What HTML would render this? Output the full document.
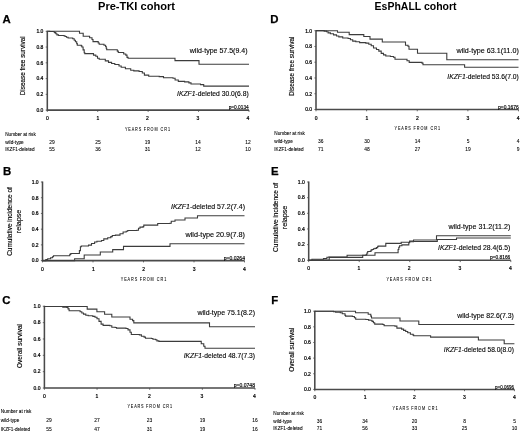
<!DOCTYPE html>
<html><head><meta charset="utf-8"><title>Figure</title>
<style>
html,body{margin:0;padding:0;background:#fff;width:520px;height:431px;overflow:hidden;}
svg text{font-family:"Liberation Sans", sans-serif;}
</style></head><body>
<svg width="520" height="431" viewBox="0 0 520 431" style="display:block;filter:grayscale(1) blur(0.22px)">
<rect width="520" height="431" fill="#fff"/>
<text x="98" y="9.8" font-size="11.2" font-weight="bold" textLength="77" lengthAdjust="spacingAndGlyphs" fill="#000">Pre-TKI cohort</text>
<text x="374.6" y="9.7" font-size="11.2" font-weight="bold" textLength="82" lengthAdjust="spacingAndGlyphs" fill="#000">EsPhALL cohort</text>
<text x="2.4" y="23.1" font-size="11.4" font-weight="bold" stroke="#000" stroke-width="0.25" fill="#000">A</text>
<text x="2.9" y="174.7" font-size="11.4" font-weight="bold" stroke="#000" stroke-width="0.25" fill="#000">B</text>
<text x="2.2" y="304.0" font-size="11.4" font-weight="bold" stroke="#000" stroke-width="0.25" fill="#000">C</text>
<text x="270.2" y="23.3" font-size="11.4" font-weight="bold" stroke="#000" stroke-width="0.25" fill="#000">D</text>
<text x="271.1" y="174.7" font-size="11.4" font-weight="bold" stroke="#000" stroke-width="0.25" fill="#000">E</text>
<text x="271.3" y="303.8" font-size="11.4" font-weight="bold" stroke="#000" stroke-width="0.25" fill="#000">F</text>
<path d="M47.3,30.8 V110.1 H249.0" fill="none" stroke="#4a4a4a" stroke-width="1.55"/>
<line x1="45.699999999999996" y1="110.10" x2="47.3" y2="110.10" stroke="#4a4a4a" stroke-width="0.8"/>
<text x="43.4" y="111.90" font-size="5" stroke="#000" stroke-width="0.22" text-anchor="end" fill="#000">0.0</text>
<line x1="45.699999999999996" y1="94.34" x2="47.3" y2="94.34" stroke="#4a4a4a" stroke-width="0.8"/>
<text x="43.4" y="96.14" font-size="5" stroke="#000" stroke-width="0.22" text-anchor="end" fill="#000">0.2</text>
<line x1="45.699999999999996" y1="78.58" x2="47.3" y2="78.58" stroke="#4a4a4a" stroke-width="0.8"/>
<text x="43.4" y="80.38" font-size="5" stroke="#000" stroke-width="0.22" text-anchor="end" fill="#000">0.4</text>
<line x1="45.699999999999996" y1="62.82" x2="47.3" y2="62.82" stroke="#4a4a4a" stroke-width="0.8"/>
<text x="43.4" y="64.62" font-size="5" stroke="#000" stroke-width="0.22" text-anchor="end" fill="#000">0.6</text>
<line x1="45.699999999999996" y1="47.06" x2="47.3" y2="47.06" stroke="#4a4a4a" stroke-width="0.8"/>
<text x="43.4" y="48.86" font-size="5" stroke="#000" stroke-width="0.22" text-anchor="end" fill="#000">0.8</text>
<line x1="45.699999999999996" y1="31.30" x2="47.3" y2="31.30" stroke="#4a4a4a" stroke-width="0.8"/>
<text x="43.4" y="33.10" font-size="5" stroke="#000" stroke-width="0.22" text-anchor="end" fill="#000">1.0</text>
<line x1="47.30" y1="110.1" x2="47.30" y2="111.89999999999999" stroke="#4a4a4a" stroke-width="0.8"/>
<text x="47.5" y="119.8" font-size="5" stroke="#000" stroke-width="0.22" text-anchor="middle" fill="#000">0</text>
<line x1="97.72" y1="110.1" x2="97.72" y2="111.89999999999999" stroke="#4a4a4a" stroke-width="0.8"/>
<text x="98" y="119.8" font-size="5" stroke="#000" stroke-width="0.22" text-anchor="middle" fill="#000">1</text>
<line x1="148.15" y1="110.1" x2="148.15" y2="111.89999999999999" stroke="#4a4a4a" stroke-width="0.8"/>
<text x="147.5" y="119.8" font-size="5" stroke="#000" stroke-width="0.22" text-anchor="middle" fill="#000">2</text>
<line x1="198.57" y1="110.1" x2="198.57" y2="111.89999999999999" stroke="#4a4a4a" stroke-width="0.8"/>
<text x="198" y="119.8" font-size="5" stroke="#000" stroke-width="0.22" text-anchor="middle" fill="#000">3</text>
<line x1="249.00" y1="110.1" x2="249.00" y2="111.89999999999999" stroke="#4a4a4a" stroke-width="0.8"/>
<text x="248" y="119.8" font-size="5" stroke="#000" stroke-width="0.22" text-anchor="middle" fill="#000">4</text>
<g transform="translate(125,130.7) scale(0.8,1)"><text x="0" y="0" font-size="4.7" stroke="#000" stroke-width="0.06" textLength="20.25" lengthAdjust="spacing" fill="#000">YEARS</text></g>
<g transform="translate(143.68,130.7) scale(0.8,1)"><text x="0" y="0" font-size="4.7" stroke="#000" stroke-width="0.06" textLength="32.91" lengthAdjust="spacing" fill="#000">FROM CR1</text></g>
<text x="228.7" y="109.20" font-size="5" stroke="#000" stroke-width="0.15" textLength="20" lengthAdjust="spacingAndGlyphs" fill="#000">p=0.0134</text>
<text transform="translate(23.2,65.8) rotate(-90)" x="0" y="2.2" font-size="6.5" stroke="#000" stroke-width="0.14" textLength="59.0" lengthAdjust="spacingAndGlyphs" text-anchor="middle" fill="#000">Disease free survival</text>
<path d="M42.5,181.5 V260.6 H244.5" fill="none" stroke="#4a4a4a" stroke-width="1.55"/>
<line x1="40.9" y1="260.60" x2="42.5" y2="260.60" stroke="#4a4a4a" stroke-width="0.8"/>
<text x="38.6" y="262.40" font-size="5" stroke="#000" stroke-width="0.22" text-anchor="end" fill="#000">0.0</text>
<line x1="40.9" y1="244.88" x2="42.5" y2="244.88" stroke="#4a4a4a" stroke-width="0.8"/>
<text x="38.6" y="246.68" font-size="5" stroke="#000" stroke-width="0.22" text-anchor="end" fill="#000">0.2</text>
<line x1="40.9" y1="229.16" x2="42.5" y2="229.16" stroke="#4a4a4a" stroke-width="0.8"/>
<text x="38.6" y="230.96" font-size="5" stroke="#000" stroke-width="0.22" text-anchor="end" fill="#000">0.4</text>
<line x1="40.9" y1="213.44" x2="42.5" y2="213.44" stroke="#4a4a4a" stroke-width="0.8"/>
<text x="38.6" y="215.24" font-size="5" stroke="#000" stroke-width="0.22" text-anchor="end" fill="#000">0.6</text>
<line x1="40.9" y1="197.72" x2="42.5" y2="197.72" stroke="#4a4a4a" stroke-width="0.8"/>
<text x="38.6" y="199.52" font-size="5" stroke="#000" stroke-width="0.22" text-anchor="end" fill="#000">0.8</text>
<line x1="40.9" y1="182.00" x2="42.5" y2="182.00" stroke="#4a4a4a" stroke-width="0.8"/>
<text x="38.6" y="183.80" font-size="5" stroke="#000" stroke-width="0.22" text-anchor="end" fill="#000">1.0</text>
<line x1="42.50" y1="260.6" x2="42.50" y2="262.40000000000003" stroke="#4a4a4a" stroke-width="0.8"/>
<text x="42.5" y="270.5" font-size="5" stroke="#000" stroke-width="0.22" text-anchor="middle" fill="#000">0</text>
<line x1="93.00" y1="260.6" x2="93.00" y2="262.40000000000003" stroke="#4a4a4a" stroke-width="0.8"/>
<text x="93.3" y="270.5" font-size="5" stroke="#000" stroke-width="0.22" text-anchor="middle" fill="#000">1</text>
<line x1="143.50" y1="260.6" x2="143.50" y2="262.40000000000003" stroke="#4a4a4a" stroke-width="0.8"/>
<text x="143.7" y="270.5" font-size="5" stroke="#000" stroke-width="0.22" text-anchor="middle" fill="#000">2</text>
<line x1="194.00" y1="260.6" x2="194.00" y2="262.40000000000003" stroke="#4a4a4a" stroke-width="0.8"/>
<text x="194.2" y="270.5" font-size="5" stroke="#000" stroke-width="0.22" text-anchor="middle" fill="#000">3</text>
<line x1="244.50" y1="260.6" x2="244.50" y2="262.40000000000003" stroke="#4a4a4a" stroke-width="0.8"/>
<text x="244.5" y="270.5" font-size="5" stroke="#000" stroke-width="0.22" text-anchor="middle" fill="#000">4</text>
<g transform="translate(120.8,281.4) scale(0.8,1)"><text x="0" y="0" font-size="4.7" stroke="#000" stroke-width="0.06" textLength="20.48" lengthAdjust="spacing" fill="#000">YEARS</text></g>
<g transform="translate(139.68,281.4) scale(0.8,1)"><text x="0" y="0" font-size="4.7" stroke="#000" stroke-width="0.06" textLength="33.27" lengthAdjust="spacing" fill="#000">FROM CR1</text></g>
<text x="223.75" y="259.70" font-size="5" stroke="#000" stroke-width="0.15" textLength="21.25" lengthAdjust="spacingAndGlyphs" fill="#000">p=0.0264</text>
<text transform="translate(9.3,221.5) rotate(-90)" x="0" y="2.2" font-size="6.5" stroke="#000" stroke-width="0.14" textLength="68.6" lengthAdjust="spacingAndGlyphs" text-anchor="middle" fill="#000">Cumulative incidence of</text>
<text transform="translate(18.3,221.5) rotate(-90)" x="0" y="2.2" font-size="6.5" stroke="#000" stroke-width="0.14" textLength="23.3" lengthAdjust="spacingAndGlyphs" text-anchor="middle" fill="#000">relapse</text>
<path d="M44.4,305.8 V388.0 H255.0" fill="none" stroke="#4a4a4a" stroke-width="1.55"/>
<line x1="42.8" y1="388.00" x2="44.4" y2="388.00" stroke="#4a4a4a" stroke-width="0.8"/>
<text x="40.5" y="389.80" font-size="5" stroke="#000" stroke-width="0.22" text-anchor="end" fill="#000">0.0</text>
<line x1="42.8" y1="371.66" x2="44.4" y2="371.66" stroke="#4a4a4a" stroke-width="0.8"/>
<text x="40.5" y="373.46" font-size="5" stroke="#000" stroke-width="0.22" text-anchor="end" fill="#000">0.2</text>
<line x1="42.8" y1="355.32" x2="44.4" y2="355.32" stroke="#4a4a4a" stroke-width="0.8"/>
<text x="40.5" y="357.12" font-size="5" stroke="#000" stroke-width="0.22" text-anchor="end" fill="#000">0.4</text>
<line x1="42.8" y1="338.98" x2="44.4" y2="338.98" stroke="#4a4a4a" stroke-width="0.8"/>
<text x="40.5" y="340.78" font-size="5" stroke="#000" stroke-width="0.22" text-anchor="end" fill="#000">0.6</text>
<line x1="42.8" y1="322.64" x2="44.4" y2="322.64" stroke="#4a4a4a" stroke-width="0.8"/>
<text x="40.5" y="324.44" font-size="5" stroke="#000" stroke-width="0.22" text-anchor="end" fill="#000">0.8</text>
<line x1="42.8" y1="306.30" x2="44.4" y2="306.30" stroke="#4a4a4a" stroke-width="0.8"/>
<text x="40.5" y="308.10" font-size="5" stroke="#000" stroke-width="0.22" text-anchor="end" fill="#000">1.0</text>
<line x1="44.40" y1="388.0" x2="44.40" y2="389.8" stroke="#4a4a4a" stroke-width="0.8"/>
<text x="44.4" y="398.1" font-size="5" stroke="#000" stroke-width="0.22" text-anchor="middle" fill="#000">0</text>
<line x1="97.05" y1="388.0" x2="97.05" y2="389.8" stroke="#4a4a4a" stroke-width="0.8"/>
<text x="97" y="398.1" font-size="5" stroke="#000" stroke-width="0.22" text-anchor="middle" fill="#000">1</text>
<line x1="149.70" y1="388.0" x2="149.70" y2="389.8" stroke="#4a4a4a" stroke-width="0.8"/>
<text x="149.5" y="398.1" font-size="5" stroke="#000" stroke-width="0.22" text-anchor="middle" fill="#000">2</text>
<line x1="202.35" y1="388.0" x2="202.35" y2="389.8" stroke="#4a4a4a" stroke-width="0.8"/>
<text x="202" y="398.1" font-size="5" stroke="#000" stroke-width="0.22" text-anchor="middle" fill="#000">3</text>
<line x1="255.00" y1="388.0" x2="255.00" y2="389.8" stroke="#4a4a4a" stroke-width="0.8"/>
<text x="254.5" y="398.1" font-size="5" stroke="#000" stroke-width="0.22" text-anchor="middle" fill="#000">4</text>
<g transform="translate(127.5,408.2) scale(0.8,1)"><text x="0" y="0" font-size="4.7" stroke="#000" stroke-width="0.06" textLength="20.02" lengthAdjust="spacing" fill="#000">YEARS</text></g>
<g transform="translate(145.97,408.2) scale(0.8,1)"><text x="0" y="0" font-size="4.7" stroke="#000" stroke-width="0.06" textLength="32.54" lengthAdjust="spacing" fill="#000">FROM CR1</text></g>
<text x="233.75" y="387.10" font-size="5" stroke="#000" stroke-width="0.15" textLength="21.25" lengthAdjust="spacingAndGlyphs" fill="#000">p=0.0748</text>
<text transform="translate(19.6,346) rotate(-90)" x="0" y="2.2" font-size="6.5" stroke="#000" stroke-width="0.14" textLength="44.0" lengthAdjust="spacingAndGlyphs" text-anchor="middle" fill="#000">Overall survival</text>
<path d="M316.0,30.2 V109.5 H518.5" fill="none" stroke="#4a4a4a" stroke-width="1.55"/>
<line x1="314.4" y1="109.50" x2="316.0" y2="109.50" stroke="#4a4a4a" stroke-width="0.8"/>
<text x="312.1" y="111.30" font-size="5" stroke="#000" stroke-width="0.22" text-anchor="end" fill="#000">0.0</text>
<line x1="314.4" y1="93.74" x2="316.0" y2="93.74" stroke="#4a4a4a" stroke-width="0.8"/>
<text x="312.1" y="95.54" font-size="5" stroke="#000" stroke-width="0.22" text-anchor="end" fill="#000">0.2</text>
<line x1="314.4" y1="77.98" x2="316.0" y2="77.98" stroke="#4a4a4a" stroke-width="0.8"/>
<text x="312.1" y="79.78" font-size="5" stroke="#000" stroke-width="0.22" text-anchor="end" fill="#000">0.4</text>
<line x1="314.4" y1="62.22" x2="316.0" y2="62.22" stroke="#4a4a4a" stroke-width="0.8"/>
<text x="312.1" y="64.02" font-size="5" stroke="#000" stroke-width="0.22" text-anchor="end" fill="#000">0.6</text>
<line x1="314.4" y1="46.46" x2="316.0" y2="46.46" stroke="#4a4a4a" stroke-width="0.8"/>
<text x="312.1" y="48.26" font-size="5" stroke="#000" stroke-width="0.22" text-anchor="end" fill="#000">0.8</text>
<line x1="314.4" y1="30.70" x2="316.0" y2="30.70" stroke="#4a4a4a" stroke-width="0.8"/>
<text x="312.1" y="32.50" font-size="5" stroke="#000" stroke-width="0.22" text-anchor="end" fill="#000">1.0</text>
<line x1="316.00" y1="109.5" x2="316.00" y2="111.3" stroke="#4a4a4a" stroke-width="0.8"/>
<text x="316.2" y="119.8" font-size="5" stroke="#000" stroke-width="0.22" text-anchor="middle" fill="#000">0</text>
<line x1="366.62" y1="109.5" x2="366.62" y2="111.3" stroke="#4a4a4a" stroke-width="0.8"/>
<text x="367" y="119.8" font-size="5" stroke="#000" stroke-width="0.22" text-anchor="middle" fill="#000">1</text>
<line x1="417.25" y1="109.5" x2="417.25" y2="111.3" stroke="#4a4a4a" stroke-width="0.8"/>
<text x="417.5" y="119.8" font-size="5" stroke="#000" stroke-width="0.22" text-anchor="middle" fill="#000">2</text>
<line x1="467.88" y1="109.5" x2="467.88" y2="111.3" stroke="#4a4a4a" stroke-width="0.8"/>
<text x="468" y="119.8" font-size="5" stroke="#000" stroke-width="0.22" text-anchor="middle" fill="#000">3</text>
<line x1="518.50" y1="109.5" x2="518.50" y2="111.3" stroke="#4a4a4a" stroke-width="0.8"/>
<text x="518.2" y="119.8" font-size="5" stroke="#000" stroke-width="0.22" text-anchor="middle" fill="#000">4</text>
<g transform="translate(394.5,130.45) scale(0.8,1)"><text x="0" y="0" font-size="4.7" stroke="#000" stroke-width="0.06" textLength="20.47" lengthAdjust="spacing" fill="#000">YEARS</text></g>
<g transform="translate(413.38,130.45) scale(0.8,1)"><text x="0" y="0" font-size="4.7" stroke="#000" stroke-width="0.06" textLength="33.27" lengthAdjust="spacing" fill="#000">FROM CR1</text></g>
<text x="497.99999999999994" y="108.60" font-size="5" stroke="#000" stroke-width="0.15" textLength="20.8" lengthAdjust="spacingAndGlyphs" fill="#000">p=0.1676</text>
<text transform="translate(291.6,66.3) rotate(-90)" x="0" y="2.2" font-size="6.5" stroke="#000" stroke-width="0.14" textLength="59.6" lengthAdjust="spacingAndGlyphs" text-anchor="middle" fill="#000">Disease free survival</text>
<path d="M308.7,181.5 V260.3 H510.8" fill="none" stroke="#4a4a4a" stroke-width="1.55"/>
<line x1="307.09999999999997" y1="260.30" x2="308.7" y2="260.30" stroke="#4a4a4a" stroke-width="0.8"/>
<text x="304.8" y="262.10" font-size="5" stroke="#000" stroke-width="0.22" text-anchor="end" fill="#000">0.0</text>
<line x1="307.09999999999997" y1="244.64" x2="308.7" y2="244.64" stroke="#4a4a4a" stroke-width="0.8"/>
<text x="304.8" y="246.44" font-size="5" stroke="#000" stroke-width="0.22" text-anchor="end" fill="#000">0.2</text>
<line x1="307.09999999999997" y1="228.98" x2="308.7" y2="228.98" stroke="#4a4a4a" stroke-width="0.8"/>
<text x="304.8" y="230.78" font-size="5" stroke="#000" stroke-width="0.22" text-anchor="end" fill="#000">0.4</text>
<line x1="307.09999999999997" y1="213.32" x2="308.7" y2="213.32" stroke="#4a4a4a" stroke-width="0.8"/>
<text x="304.8" y="215.12" font-size="5" stroke="#000" stroke-width="0.22" text-anchor="end" fill="#000">0.6</text>
<line x1="307.09999999999997" y1="197.66" x2="308.7" y2="197.66" stroke="#4a4a4a" stroke-width="0.8"/>
<text x="304.8" y="199.46" font-size="5" stroke="#000" stroke-width="0.22" text-anchor="end" fill="#000">0.8</text>
<line x1="307.09999999999997" y1="182.00" x2="308.7" y2="182.00" stroke="#4a4a4a" stroke-width="0.8"/>
<text x="304.8" y="183.80" font-size="5" stroke="#000" stroke-width="0.22" text-anchor="end" fill="#000">1.0</text>
<line x1="308.70" y1="260.3" x2="308.70" y2="262.1" stroke="#4a4a4a" stroke-width="0.8"/>
<text x="308.7" y="270.40000000000003" font-size="5" stroke="#000" stroke-width="0.22" text-anchor="middle" fill="#000">0</text>
<line x1="359.23" y1="260.3" x2="359.23" y2="262.1" stroke="#4a4a4a" stroke-width="0.8"/>
<text x="358.8" y="270.40000000000003" font-size="5" stroke="#000" stroke-width="0.22" text-anchor="middle" fill="#000">1</text>
<line x1="409.75" y1="260.3" x2="409.75" y2="262.1" stroke="#4a4a4a" stroke-width="0.8"/>
<text x="409.2" y="270.40000000000003" font-size="5" stroke="#000" stroke-width="0.22" text-anchor="middle" fill="#000">2</text>
<line x1="460.27" y1="260.3" x2="460.27" y2="262.1" stroke="#4a4a4a" stroke-width="0.8"/>
<text x="460" y="270.40000000000003" font-size="5" stroke="#000" stroke-width="0.22" text-anchor="middle" fill="#000">3</text>
<line x1="510.80" y1="260.3" x2="510.80" y2="262.1" stroke="#4a4a4a" stroke-width="0.8"/>
<text x="510.3" y="270.40000000000003" font-size="5" stroke="#000" stroke-width="0.22" text-anchor="middle" fill="#000">4</text>
<g transform="translate(386.5,280.5) scale(0.8,1)"><text x="0" y="0" font-size="4.7" stroke="#000" stroke-width="0.06" textLength="20.25" lengthAdjust="spacing" fill="#000">YEARS</text></g>
<g transform="translate(405.18,280.5) scale(0.8,1)"><text x="0" y="0" font-size="4.7" stroke="#000" stroke-width="0.06" textLength="32.91" lengthAdjust="spacing" fill="#000">FROM CR1</text></g>
<text x="490.0" y="259.40" font-size="5" stroke="#000" stroke-width="0.15" textLength="20.3" lengthAdjust="spacingAndGlyphs" fill="#000">p=0.8166</text>
<text transform="translate(275.6,217.4) rotate(-90)" x="0" y="2.2" font-size="6.5" stroke="#000" stroke-width="0.14" textLength="69.0" lengthAdjust="spacingAndGlyphs" text-anchor="middle" fill="#000">Cumulative incidence of</text>
<text transform="translate(284.5,217.4) rotate(-90)" x="0" y="2.2" font-size="6.5" stroke="#000" stroke-width="0.14" textLength="23.5" lengthAdjust="spacingAndGlyphs" text-anchor="middle" fill="#000">relapse</text>
<path d="M314.8,310.7 V389.4 H514.4" fill="none" stroke="#4a4a4a" stroke-width="1.55"/>
<line x1="313.2" y1="389.40" x2="314.8" y2="389.40" stroke="#4a4a4a" stroke-width="0.8"/>
<text x="310.90000000000003" y="391.20" font-size="5" stroke="#000" stroke-width="0.22" text-anchor="end" fill="#000">0.0</text>
<line x1="313.2" y1="373.76" x2="314.8" y2="373.76" stroke="#4a4a4a" stroke-width="0.8"/>
<text x="310.90000000000003" y="375.56" font-size="5" stroke="#000" stroke-width="0.22" text-anchor="end" fill="#000">0.2</text>
<line x1="313.2" y1="358.12" x2="314.8" y2="358.12" stroke="#4a4a4a" stroke-width="0.8"/>
<text x="310.90000000000003" y="359.92" font-size="5" stroke="#000" stroke-width="0.22" text-anchor="end" fill="#000">0.4</text>
<line x1="313.2" y1="342.48" x2="314.8" y2="342.48" stroke="#4a4a4a" stroke-width="0.8"/>
<text x="310.90000000000003" y="344.28" font-size="5" stroke="#000" stroke-width="0.22" text-anchor="end" fill="#000">0.6</text>
<line x1="313.2" y1="326.84" x2="314.8" y2="326.84" stroke="#4a4a4a" stroke-width="0.8"/>
<text x="310.90000000000003" y="328.64" font-size="5" stroke="#000" stroke-width="0.22" text-anchor="end" fill="#000">0.8</text>
<line x1="313.2" y1="311.20" x2="314.8" y2="311.20" stroke="#4a4a4a" stroke-width="0.8"/>
<text x="310.90000000000003" y="313.00" font-size="5" stroke="#000" stroke-width="0.22" text-anchor="end" fill="#000">1.0</text>
<line x1="314.80" y1="389.4" x2="314.80" y2="391.2" stroke="#4a4a4a" stroke-width="0.8"/>
<text x="314.9" y="399.1" font-size="5" stroke="#000" stroke-width="0.22" text-anchor="middle" fill="#000">0</text>
<line x1="364.70" y1="389.4" x2="364.70" y2="391.2" stroke="#4a4a4a" stroke-width="0.8"/>
<text x="365.1" y="399.1" font-size="5" stroke="#000" stroke-width="0.22" text-anchor="middle" fill="#000">1</text>
<line x1="414.60" y1="389.4" x2="414.60" y2="391.2" stroke="#4a4a4a" stroke-width="0.8"/>
<text x="414.5" y="399.1" font-size="5" stroke="#000" stroke-width="0.22" text-anchor="middle" fill="#000">2</text>
<line x1="464.50" y1="389.4" x2="464.50" y2="391.2" stroke="#4a4a4a" stroke-width="0.8"/>
<text x="464.5" y="399.1" font-size="5" stroke="#000" stroke-width="0.22" text-anchor="middle" fill="#000">3</text>
<line x1="514.40" y1="389.4" x2="514.40" y2="391.2" stroke="#4a4a4a" stroke-width="0.8"/>
<text x="514.5" y="399.1" font-size="5" stroke="#000" stroke-width="0.22" text-anchor="middle" fill="#000">4</text>
<g transform="translate(392.5,410.45) scale(0.8,1)"><text x="0" y="0" font-size="4.7" stroke="#000" stroke-width="0.06" textLength="20.25" lengthAdjust="spacing" fill="#000">YEARS</text></g>
<g transform="translate(411.18,410.45) scale(0.8,1)"><text x="0" y="0" font-size="4.7" stroke="#000" stroke-width="0.06" textLength="32.91" lengthAdjust="spacing" fill="#000">FROM CR1</text></g>
<text x="495.0" y="388.50" font-size="5" stroke="#000" stroke-width="0.15" textLength="18.9" lengthAdjust="spacingAndGlyphs" fill="#000">p=0.0696</text>
<text transform="translate(291.8,349.7) rotate(-90)" x="0" y="2.2" font-size="6.5" stroke="#000" stroke-width="0.14" textLength="44.0" lengthAdjust="spacingAndGlyphs" text-anchor="middle" fill="#000">Overall survival</text>
<path d="M47.5,31.2 H79.5 V33.2 H83.2 V36.3 H89.6 V37.8 H92.0 V39.5 H93.0 V41.6 H98.2 V43.0 H99.2 V44.2 H104.0 V45.3 H105.6 V46.5 H106.2 V48.2 H106.7 V49.7 H117.3 V51.1 H118.3 V52.5 H123.7 V54.0 H125.8 V55.1 H127.0 V57.4 H128.1 V58.2 H175.0 V60.6 H199.0 V64.3 H249.0" fill="none" stroke="#3c3c3c" stroke-width="1.1"/>
<path d="M47.5,31.2 H49.6 V31.5 H53.5 V31.8 H54.6 V32.6 H55.8 V33.8 H56.9 V34.9 H58.5 V35.5 H63.8 V35.7 H65.0 V36.5 H66.5 V37.2 H68.1 V38.0 H71.5 H72.7 V38.8 H74.2 V40.3 H75.4 V41.8 H76.7 V43.6 H77.3 V45.3 H81.3 V45.9 H81.9 V47.0 H83.1 V49.9 H84.2 V52.8 H84.8 V53.6 H92.3 H93.5 V55.1 H95.8 V56.3 H97.5 V58.2 H99.2 V59.2 H103.2 H105.3 V60.9 H108.5 V62.4 H111.6 V63.5 H114.8 V64.5 H119.0 V66.0 H121.2 V67.3 H125.4 V68.8 H130.7 V70.2 H133.8 V70.9 H139.1 V71.5 H142.3 V73.0 H144.4 V75.1 H148.7 V76.2 H159.2 V76.6 H163.5 V77.8 H173.0 V78.3 H175.1 V80.0 H178.3 V81.4 H184.6 V81.9 H188.9 V82.9 H191.0 V84.0 H200.5 V84.6 H203.7 V86.1 H249.0" fill="none" stroke="#3c3c3c" stroke-width="1.1"/>
<path d="M42.9,260.6 H45.8 V259.6 H47.7 V258.7 H50.6 V257.7 H52.5 V256.7 H53.5 V255.8 H68.8 H69.8 V254.4 H70.8 V253.5 H78.5 H79.4 V250.6 H80.4 V246.7 H81.3 V246.0 H86.9 H88.5 V245.1 H91.5 V243.5 H94.6 V242.0 H96.9 V241.2 H101.5 V240.5 H103.8 V238.9 H107.7 V237.8 H110.8 V236.6 H112.3 V235.5 H115.4 V235.1 H120.0 V233.8 H123.1 V232.0 H126.2 V231.2 H127.7 V230.5 H136.9 V230.2 H138.5 V228.2 H140.0 V227.1 H143.1 V226.6 H143.8 V225.1 H156.2 H157.7 V223.5 H170.0 V223.3 H171.25 V221.25 H173.75 H175.0 V220.0 H183.75 H185.0 V218.0 H196.25 H197.5 V215.75 H244.5" fill="none" stroke="#3c3c3c" stroke-width="1.1"/>
<path d="M42.5,260.6 H74.6 V258.8 H84.2 V255.0 H100.3 V252.0 H112.7 V249.6 H123.5 V246.4 H170.0 V243.7 H244.5" fill="none" stroke="#3c3c3c" stroke-width="1.1"/>
<path d="M44.4,306.5 H87.2 V309.1 H96.9 V311.7 H104.6 V314.3 H111.8 V317.0 H130.0 V319.3 H132.6 V320.6 H133.8 V322.9 H209.5 V326.7 H255.0" fill="none" stroke="#3c3c3c" stroke-width="1.1"/>
<path d="M44.4,306.5 H62.2 H62.8 V307.2 H66.8 V307.5 H68.0 V308.9 H69.1 V310.7 H78.9 H80.1 V311.8 H81.8 V313.0 H83.5 V314.1 H85.8 V315.3 H88.2 V315.8 H92.8 V316.4 H95.0 V317.2 H97.0 V318.7 H99.0 V321.4 H101.1 V324.1 H103.1 V325.4 H109.8 V325.8 H111.8 V327.2 H115.2 V327.5 H116.5 V328.1 H126.0 V328.5 H128.0 V329.9 H130.0 V332.2 H131.3 V334.5 H139.4 V334.9 H141.4 V336.2 H144.1 V337.1 H145.5 V338.2 H151.5 V338.5 H152.9 V339.3 H155.6 V339.8 H156.9 V340.9 H158.9 V341.4 H199.6 H201.25 V343.75 H203.75 V346.25 H205.0 V348.2 H255.0" fill="none" stroke="#3c3c3c" stroke-width="1.1"/>
<path d="M316.0,30.7 H337.5 V32.3 H349.2 V34.6 H363.8 V36.5 H370.0 V39.1 H382.3 V42.0 H405.5 V45.3 H408.0 V46.2 H409.0 V49.2 H417.5 V53.2 H446.8 V59.8 H518.5" fill="none" stroke="#3c3c3c" stroke-width="1.1"/>
<path d="M316.0,30.6 H324.2 V31.1 H326.5 V31.8 H328.1 V32.9 H330.4 V33.7 H333.5 V34.9 H336.5 V36.0 H338.8 V36.9 H342.7 V38.0 H348.1 V38.5 H350.4 V39.8 H352.7 V41.1 H355.8 V41.8 H359.6 V42.6 H365.8 V43.1 H368.8 V44.2 H371.2 V45.7 H373.5 V48.0 H376.5 V49.5 H378.8 V51.1 H381.2 V53.4 H383.5 V54.9 H385.8 V56.0 H390.4 V56.5 H393.5 V57.2 H395.0 V59.2 H405.8 H407.0 V60.8 H409.2 V62.4 H422.0 V63.1 H423.0 V64.7 H463.5 H464.6 V67.2 H518.5" fill="none" stroke="#3c3c3c" stroke-width="1.1"/>
<path d="M308.7,260.2 H329.2 V257.4 H362.7 V255.3 H365.0 H366.2 V254.5 H366.9 V253.0 H367.7 V251.5 H370.4 V251.1 H371.2 V249.9 H372.3 V249.5 H373.5 V248.8 H375.0 V248.4 H376.5 V247.6 H377.7 V246.5 H378.1 V246.1 H385.0 H385.8 V243.4 H401.2 V242.2 H409.6 V241.1 H413.5 V240.0 H436.5 V235.7 H510.8" fill="none" stroke="#3c3c3c" stroke-width="1.1"/>
<path d="M308.7,260.2 H311.9 V259.2 H323.5 V258.6 H326.9 V257.3 H328.7 V257.0 H347.1 V255.3 H374.2 H375.0 V252.7 H397.0 H398.1 V249.5 H398.8 V247.2 H399.6 V245.7 H401.9 V244.9 H408.1 H408.8 V242.6 H409.6 V241.8 H413.5 V241.5 H436.5 H437.3 V239.5 H455.8 H456.5 V238.0 H510.8" fill="none" stroke="#3c3c3c" stroke-width="1.1"/>
<path d="M314.8,311.3 H355.5 V312.7 H368.2 V314.3 H370.8 V316.1 H371.5 V318.0 H400.0 V321.0 H418.8 V324.5 H514.4" fill="none" stroke="#3c3c3c" stroke-width="1.1"/>
<path d="M314.8,311.3 H330.2 H333.5 V311.7 H335.6 V312.3 H340.3 V312.7 H342.3 V313.8 H345.0 V315.4 H345.6 V316.1 H352.4 V316.5 H354.4 V317.8 H355.7 V319.2 H365.8 V319.5 H368.5 V320.1 H370.0 V320.3 H372.0 V321.4 H373.4 V322.7 H374.7 V324.1 H382.8 V324.5 H384.1 V325.8 H394.9 V326.1 H396.9 V328.1 H401.6 V329.1 H403.6 V330.4 H405.7 V331.5 H407.7 V332.8 H410.4 V334.2 H413.1 V335.1 H413.7 V335.8 H429.2 H430.6 V337.1 H477.9 H478.4 V340.0 H503.5 H504.2 V343.7 H514.4" fill="none" stroke="#3c3c3c" stroke-width="1.1"/>
<text x="189.75" y="53.4" font-size="7.2" stroke="#000" stroke-width="0.12" textLength="57.75" lengthAdjust="spacingAndGlyphs" fill="#000">wild-type 57.5(9.4)</text>
<text x="177.0" y="95.60000000000001" font-size="7.2" stroke="#000" stroke-width="0.12" textLength="71.7" lengthAdjust="spacingAndGlyphs" fill="#000"><tspan font-style="italic">IKZF1</tspan>-deleted 30.0(6.8)</text>
<text x="171" y="208.65" font-size="7.2" stroke="#000" stroke-width="0.12" textLength="74" lengthAdjust="spacingAndGlyphs" fill="#000"><tspan font-style="italic">IKZF1</tspan>-deleted 57.2(7.4)</text>
<text x="185.5" y="237.4" font-size="7.2" stroke="#000" stroke-width="0.12" textLength="59.5" lengthAdjust="spacingAndGlyphs" fill="#000">wild-type 20.9(7.8)</text>
<text x="197.5" y="314.9" font-size="7.2" stroke="#000" stroke-width="0.12" textLength="57.5" lengthAdjust="spacingAndGlyphs" fill="#000">wild-type 75.1(8.2)</text>
<text x="183.75" y="357.65" font-size="7.2" stroke="#000" stroke-width="0.12" textLength="71.25" lengthAdjust="spacingAndGlyphs" fill="#000"><tspan font-style="italic">IKZF1</tspan>-deleted 48.7(7.3)</text>
<text x="456.49999999999994" y="52.699999999999996" font-size="7.2" stroke="#000" stroke-width="0.12" textLength="62.3" lengthAdjust="spacingAndGlyphs" fill="#000">wild-type 63.1(11.0)</text>
<text x="447.29999999999995" y="78.9" font-size="7.2" stroke="#000" stroke-width="0.12" textLength="71.5" lengthAdjust="spacingAndGlyphs" fill="#000"><tspan font-style="italic">IKZF1</tspan>-deleted 53.6(7.0)</text>
<text x="448.5" y="229.3" font-size="7.2" stroke="#000" stroke-width="0.12" textLength="61.8" lengthAdjust="spacingAndGlyphs" fill="#000">wild-type 31.2(11.2)</text>
<text x="438.0" y="249.6" font-size="7.2" stroke="#000" stroke-width="0.12" textLength="72.3" lengthAdjust="spacingAndGlyphs" fill="#000"><tspan font-style="italic">IKZF1</tspan>-deleted 28.4(6.5)</text>
<text x="457.2" y="317.59999999999997" font-size="7.2" stroke="#000" stroke-width="0.12" textLength="56.7" lengthAdjust="spacingAndGlyphs" fill="#000">wild-type 82.6(7.3)</text>
<text x="443.79999999999995" y="352.4" font-size="7.2" stroke="#000" stroke-width="0.12" textLength="70.1" lengthAdjust="spacingAndGlyphs" fill="#000"><tspan font-style="italic">IKZF1</tspan>-deleted 58.0(8.0)</text>
<text x="5.2" y="135.6" font-size="4.7" stroke="#000" stroke-width="0.08" textLength="30.6" lengthAdjust="spacingAndGlyphs" fill="#000">Number at risk</text>
<text x="5.2" y="143.6" font-size="4.7" stroke="#000" stroke-width="0.08" textLength="18.5" lengthAdjust="spacingAndGlyphs" fill="#000">wild-type</text>
<text x="5.2" y="151.1" font-size="4.7" stroke="#000" stroke-width="0.08" textLength="29.4" lengthAdjust="spacingAndGlyphs" fill="#000">IKZF1-deleted</text>
<text x="51.9" y="143.6" font-size="4.9" stroke="#000" stroke-width="0.08" text-anchor="middle" fill="#000">29</text>
<text x="51.9" y="151.1" font-size="4.9" stroke="#000" stroke-width="0.08" text-anchor="middle" fill="#000">55</text>
<text x="98" y="143.6" font-size="4.9" stroke="#000" stroke-width="0.08" text-anchor="middle" fill="#000">25</text>
<text x="98" y="151.1" font-size="4.9" stroke="#000" stroke-width="0.08" text-anchor="middle" fill="#000">36</text>
<text x="147.5" y="143.6" font-size="4.9" stroke="#000" stroke-width="0.08" text-anchor="middle" fill="#000">19</text>
<text x="147.5" y="151.1" font-size="4.9" stroke="#000" stroke-width="0.08" text-anchor="middle" fill="#000">31</text>
<text x="198" y="143.6" font-size="4.9" stroke="#000" stroke-width="0.08" text-anchor="middle" fill="#000">14</text>
<text x="198" y="151.1" font-size="4.9" stroke="#000" stroke-width="0.08" text-anchor="middle" fill="#000">12</text>
<text x="248" y="143.6" font-size="4.9" stroke="#000" stroke-width="0.08" text-anchor="middle" fill="#000">12</text>
<text x="248" y="151.1" font-size="4.9" stroke="#000" stroke-width="0.08" text-anchor="middle" fill="#000">10</text>
<text x="0.8" y="413.40000000000003" font-size="4.7" stroke="#000" stroke-width="0.08" textLength="30.6" lengthAdjust="spacingAndGlyphs" fill="#000">Number at risk</text>
<text x="0.8" y="422.0" font-size="4.7" stroke="#000" stroke-width="0.08" textLength="18.5" lengthAdjust="spacingAndGlyphs" fill="#000">wild-type</text>
<text x="0.8" y="430.7" font-size="4.7" stroke="#000" stroke-width="0.08" textLength="29.4" lengthAdjust="spacingAndGlyphs" fill="#000">IKZF1-deleted</text>
<text x="49" y="422.0" font-size="4.9" stroke="#000" stroke-width="0.08" text-anchor="middle" fill="#000">29</text>
<text x="49" y="430.7" font-size="4.9" stroke="#000" stroke-width="0.08" text-anchor="middle" fill="#000">55</text>
<text x="97" y="422.0" font-size="4.9" stroke="#000" stroke-width="0.08" text-anchor="middle" fill="#000">27</text>
<text x="97" y="430.7" font-size="4.9" stroke="#000" stroke-width="0.08" text-anchor="middle" fill="#000">47</text>
<text x="149.5" y="422.0" font-size="4.9" stroke="#000" stroke-width="0.08" text-anchor="middle" fill="#000">23</text>
<text x="149.5" y="430.7" font-size="4.9" stroke="#000" stroke-width="0.08" text-anchor="middle" fill="#000">31</text>
<text x="202.5" y="422.0" font-size="4.9" stroke="#000" stroke-width="0.08" text-anchor="middle" fill="#000">19</text>
<text x="202.5" y="430.7" font-size="4.9" stroke="#000" stroke-width="0.08" text-anchor="middle" fill="#000">19</text>
<text x="255" y="422.0" font-size="4.9" stroke="#000" stroke-width="0.08" text-anchor="middle" fill="#000">16</text>
<text x="255" y="430.7" font-size="4.9" stroke="#000" stroke-width="0.08" text-anchor="middle" fill="#000">16</text>
<text x="274.3" y="134.6" font-size="4.7" stroke="#000" stroke-width="0.08" textLength="30.6" lengthAdjust="spacingAndGlyphs" fill="#000">Number at risk</text>
<text x="274.3" y="142.6" font-size="4.7" stroke="#000" stroke-width="0.08" textLength="18.5" lengthAdjust="spacingAndGlyphs" fill="#000">wild-type</text>
<text x="274.3" y="150.7" font-size="4.7" stroke="#000" stroke-width="0.08" textLength="29.4" lengthAdjust="spacingAndGlyphs" fill="#000">IKZF1-deleted</text>
<text x="320.8" y="142.6" font-size="4.9" stroke="#000" stroke-width="0.08" text-anchor="middle" fill="#000">36</text>
<text x="320.8" y="150.7" font-size="4.9" stroke="#000" stroke-width="0.08" text-anchor="middle" fill="#000">71</text>
<text x="367" y="142.6" font-size="4.9" stroke="#000" stroke-width="0.08" text-anchor="middle" fill="#000">30</text>
<text x="367" y="150.7" font-size="4.9" stroke="#000" stroke-width="0.08" text-anchor="middle" fill="#000">48</text>
<text x="417.5" y="142.6" font-size="4.9" stroke="#000" stroke-width="0.08" text-anchor="middle" fill="#000">14</text>
<text x="417.5" y="150.7" font-size="4.9" stroke="#000" stroke-width="0.08" text-anchor="middle" fill="#000">27</text>
<text x="468" y="142.6" font-size="4.9" stroke="#000" stroke-width="0.08" text-anchor="middle" fill="#000">5</text>
<text x="468" y="150.7" font-size="4.9" stroke="#000" stroke-width="0.08" text-anchor="middle" fill="#000">19</text>
<text x="518" y="142.6" font-size="4.9" stroke="#000" stroke-width="0.08" text-anchor="middle" fill="#000">4</text>
<text x="518" y="150.7" font-size="4.9" stroke="#000" stroke-width="0.08" text-anchor="middle" fill="#000">9</text>
<text x="273.3" y="414.6" font-size="4.7" stroke="#000" stroke-width="0.08" textLength="30.6" lengthAdjust="spacingAndGlyphs" fill="#000">Number at risk</text>
<text x="273.3" y="422.7" font-size="4.7" stroke="#000" stroke-width="0.08" textLength="18.5" lengthAdjust="spacingAndGlyphs" fill="#000">wild-type</text>
<text x="273.3" y="430.3" font-size="4.7" stroke="#000" stroke-width="0.08" textLength="29.4" lengthAdjust="spacingAndGlyphs" fill="#000">IKZF1-deleted</text>
<text x="319.5" y="422.7" font-size="4.9" stroke="#000" stroke-width="0.08" text-anchor="middle" fill="#000">36</text>
<text x="319.5" y="430.3" font-size="4.9" stroke="#000" stroke-width="0.08" text-anchor="middle" fill="#000">71</text>
<text x="365" y="422.7" font-size="4.9" stroke="#000" stroke-width="0.08" text-anchor="middle" fill="#000">34</text>
<text x="365" y="430.3" font-size="4.9" stroke="#000" stroke-width="0.08" text-anchor="middle" fill="#000">56</text>
<text x="414.5" y="422.7" font-size="4.9" stroke="#000" stroke-width="0.08" text-anchor="middle" fill="#000">20</text>
<text x="414.5" y="430.3" font-size="4.9" stroke="#000" stroke-width="0.08" text-anchor="middle" fill="#000">33</text>
<text x="464.5" y="422.7" font-size="4.9" stroke="#000" stroke-width="0.08" text-anchor="middle" fill="#000">8</text>
<text x="464.5" y="430.3" font-size="4.9" stroke="#000" stroke-width="0.08" text-anchor="middle" fill="#000">25</text>
<text x="514.5" y="422.7" font-size="4.9" stroke="#000" stroke-width="0.08" text-anchor="middle" fill="#000">5</text>
<text x="514.5" y="430.3" font-size="4.9" stroke="#000" stroke-width="0.08" text-anchor="middle" fill="#000">10</text>
</svg>
</body></html>
